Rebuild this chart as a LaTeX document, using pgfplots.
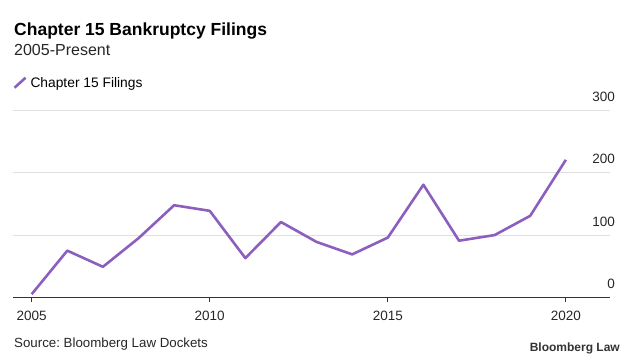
\documentclass[border=0pt]{standalone}
\usepackage{pgfplots}
\pgfplotsset{compat=1.18}
\usepackage{fontspec}
\setmainfont{Liberation Sans}
\frenchspacing
\definecolor{linepurple}{HTML}{8C5FBF}
\definecolor{gridgray}{HTML}{E0E0E0}
\definecolor{axisdark}{HTML}{333333}
\begin{document}
\begin{tikzpicture}
\path (0pt,0pt) rectangle (633pt,363pt);
\node[anchor=base west, inner sep=0, font=\bfseries\fontsize{17.5}{20}\selectfont] at (14pt,327pt) {Chapter 15 Bankruptcy Filings};
\node[anchor=base west, inner sep=0, font=\fontsize{16}{19}\selectfont, text=black!85] at (14pt,307pt) {2005-Present};
\node[anchor=base west, inner sep=0, font=\fontsize{13.3}{15}\selectfont, text=black!85] at (14pt,15pt) {Source: Bloomberg Law Dockets};
\node[anchor=base east, inner sep=0, font=\bfseries\fontsize{12}{14}\selectfont, text=black!80] at (620pt,11pt) {Bloomberg Law};
\begin{axis}[
  at={(13pt,65.7pt)}, anchor=south west,
  scale only axis, width=597pt, height=186.6pt,
  xmin=2004.475, xmax=2021.24,
  ymin=0, ymax=300,
  axis x line*=bottom, axis y line*=right,
  y axis line style={draw=none},
  x axis line style={draw=axisdark, line width=1.2pt},
  xtick={2005,2010,2015,2020},
  ytick={0,100,200,300},
  xticklabels={2005,2010,2015,2020},
  yticklabels={0,100,200,300},
  ymajorgrids, grid style={draw=gridgray, line width=1pt},
  tick align=outside,
  major tick length=5pt,
  xtick style={draw=axisdark, line width=0.8pt},
  ytick style={draw=none},
  tick label style={font=\fontsize{13.5}{16}\selectfont, text=black!85},
  xticklabel style={yshift=-5pt},
  yticklabel style={anchor=base east, inner sep=0pt, yshift=9pt},
  /pgf/number format/assume math mode=true,
  clip=false,
  legend style={at={(axis description cs:0,1)}, anchor=south west, draw=none, fill=none, inner sep=0pt, yshift=19pt, xshift=0pt, font=\fontsize{13.8}{16}\selectfont},
  legend cell align=left,
  legend image code/.code={\draw[#1, line width=2.6pt, line cap=butt] (1pt,-4pt) -- (12pt,6pt); \path[draw=none,fill=none] (15pt,0pt) circle[radius=0.01pt];},
]
\addplot[color=linepurple, line width=2.6pt, line join=round] coordinates {
(2005,5) (2006,75) (2007,49) (2008,95) (2009,148) (2010,139) (2011,63) (2012,121)
(2013,89) (2014,69) (2015,96) (2016,181) (2017,91) (2018,100) (2019,131) (2020,221)
};
\addlegendentry{Chapter 15 Filings}
\end{axis}
\end{tikzpicture}
\end{document}
